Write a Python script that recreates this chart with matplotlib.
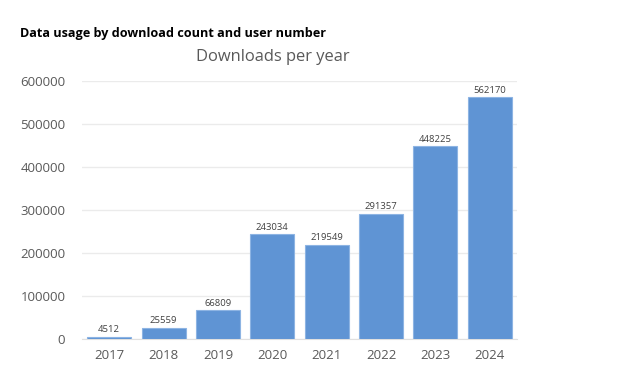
import matplotlib.pyplot as plt

years = ["2017", "2018", "2019", "2020", "2021", "2022", "2023", "2024"]
downloads = [4512, 25559, 66809, 243034, 219549, 291357, 448225, 562170]

plt.rcParams['font.family'] = ['Open Sans', 'DejaVu Sans']

fig = plt.figure(figsize=(6.26, 3.75), dpi=100)
ax = fig.add_axes([82 / 626, 1 - 339 / 375, 435 / 626, 258 / 375])

bars = ax.bar(years, downloads, width=0.81, color="#5f94d4",
              edgecolor="#8db4e3", linewidth=0.8, zorder=3)
for b, v in zip(bars, downloads):
    ax.text(b.get_x() + b.get_width() / 2, v + 6000, str(v),
            ha="center", va="bottom", fontsize=6.8, color="#404040")

ax.set_ylim(0, 600000)
ax.set_xlim(-0.5, len(years) - 0.5)
ax.set_yticks(range(0, 600001, 100000))
ax.grid(axis="y", color="#ebebeb", linewidth=1, zorder=0)
for s in ["top", "right", "left"]:
    ax.spines[s].set_visible(False)
ax.spines["bottom"].set_color("#e0e0e0")
ax.tick_params(axis="both", length=0, labelsize=9.5, colors="#595959")
ax.tick_params(axis="y", pad=12)
ax.tick_params(axis="x", pad=7)

fig.text(20 / 626, 1 - 33 / 375, "Data usage by download count and user number",
         fontsize=9.1, fontweight="bold", color="black", va="center")
fig.text(273 / 626, 1 - 57 / 375, "Downloads per year",
         fontsize=11.9, color="#595959", ha="center", va="center")

fig.savefig("out.png", dpi=100)
